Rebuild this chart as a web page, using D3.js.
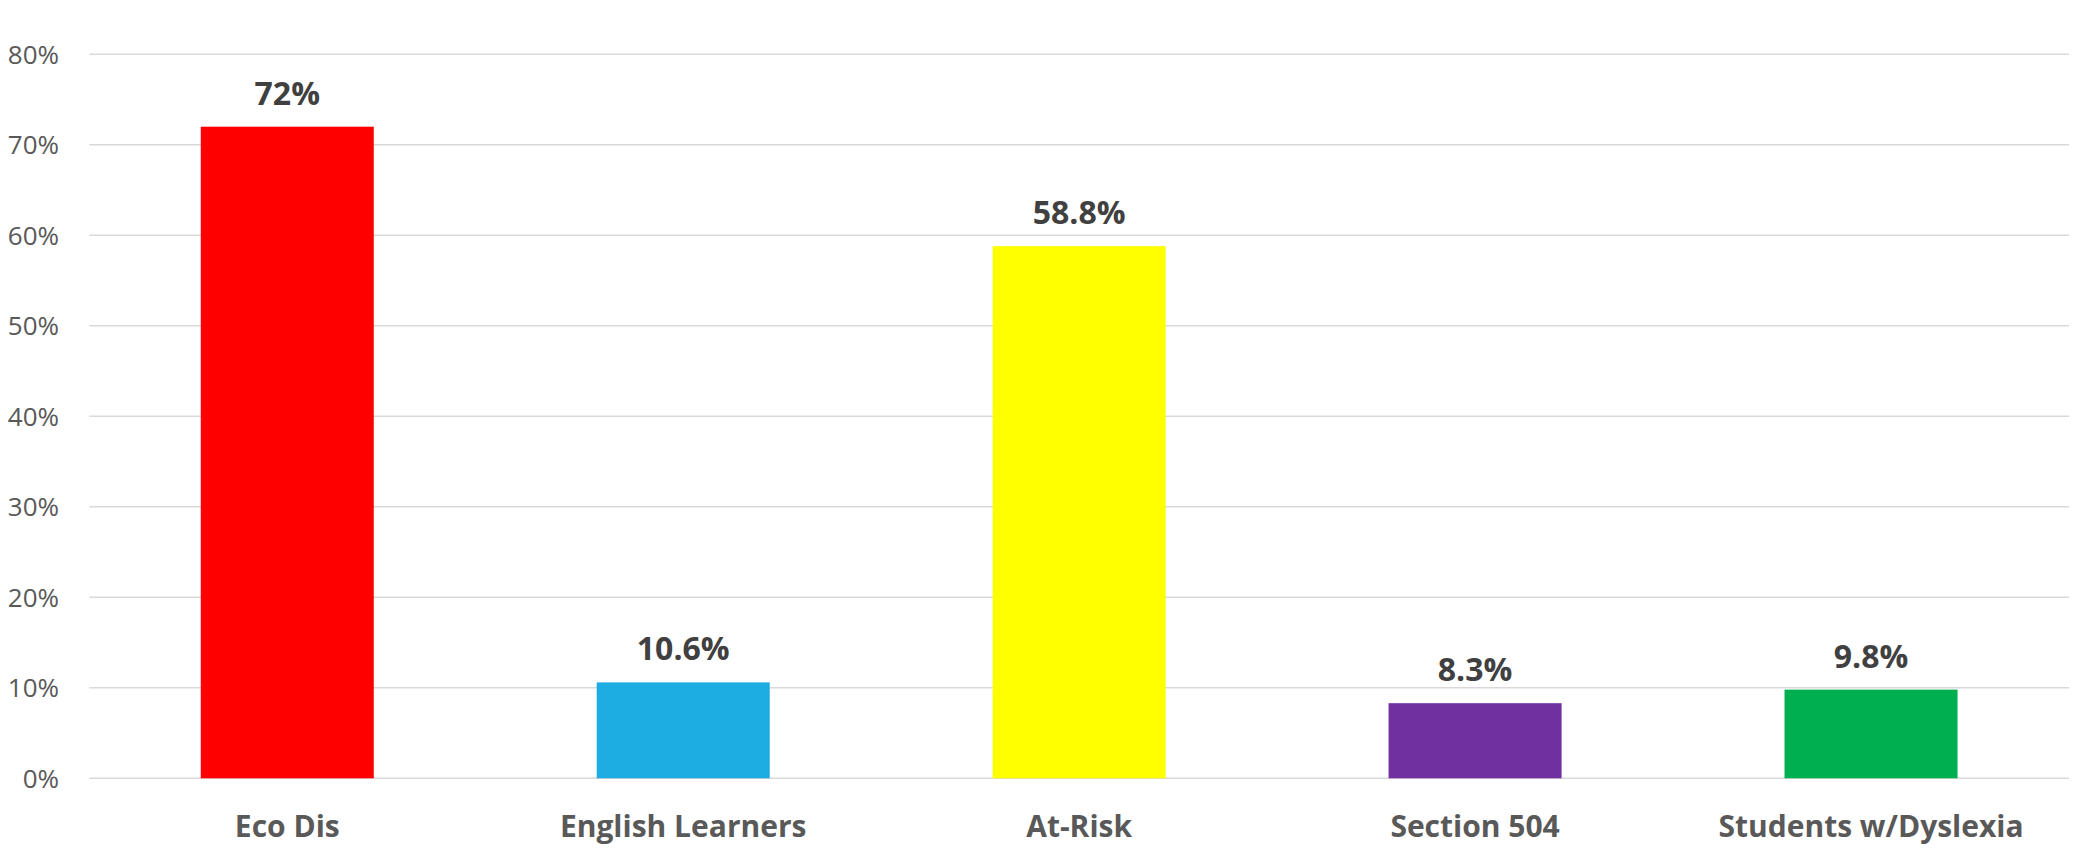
<!DOCTYPE html>
<html><head><meta charset="utf-8">
<script src="https://cdn.jsdelivr.net/npm/d3@7"></script>
<style>html,body{margin:0;padding:0;background:#fff;}svg{display:block;}</style>
</head><body>
<svg id="chart" width="2073" height="850"></svg>
<script>
const categories = ["Eco Dis", "English Learners", "At-Risk", "Section 504", "Students w/Dyslexia"];
const values = [72, 10.6, 58.8, 8.3, 9.8];
const valueLabels = ["72%", "10.6%", "58.8%", "8.3%", "9.8%"];
const colors = ["#FF0000", "#1EADE3", "#FFFF00", "#7030A0", "#00B050"];
const yTicks = [0, 10, 20, 30, 40, 50, 60, 70, 80];

(function () {
const svg = d3.select("#chart");
const mLeft = 89.3, mRight = 2069, mTop = 54.3, mBottom = 778.3;

const x = d3.scaleBand().domain(categories).range([mLeft, mRight]).paddingInner(0.563).paddingOuter(0.2815);
const y = d3.scaleLinear().domain([0, 80]).range([mBottom, mTop]);

// gridlines
svg.append("g").selectAll("line").data(yTicks).join("line")
  .attr("x1", mLeft).attr("x2", mRight)
  .attr("y1", d => y(d)).attr("y2", d => y(d))
  .attr("stroke", "#d9d9d9").attr("stroke-width", 1.5);

// y tick labels
svg.append("g").selectAll("text").data(yTicks).join("text")
  .attr("x", 59).attr("y", d => y(d)).attr("dy", "0.36em")
  .attr("text-anchor", "end")
  .attr("font-family", "'Open Sans', sans-serif").attr("font-size", 26)
  .attr("fill", "#595959")
  .text(d => d + "%");

// bars
svg.append("g").selectAll("rect").data(categories).join("rect")
  .attr("x", d => x(d)).attr("width", x.bandwidth())
  .attr("y", (d, i) => y(values[i])).attr("height", (d, i) => y(0) - y(values[i]))
  .attr("fill", (d, i) => colors[i]);

// value labels
svg.append("g").selectAll("text").data(categories).join("text")
  .attr("x", d => x(d) + x.bandwidth() / 2)
  .attr("y", (d, i) => y(values[i]) - 22)
  .attr("text-anchor", "middle")
  .attr("font-family", "'Open Sans', sans-serif").attr("font-weight", "bold").attr("font-size", 32)
  .attr("fill", "#404040")
  .text((d, i) => valueLabels[i]);

// category labels
svg.append("g").selectAll("text").data(categories).join("text")
  .attr("x", d => x(d) + x.bandwidth() / 2)
  .attr("y", mBottom + 59)
  .attr("text-anchor", "middle")
  .attr("font-family", "'Open Sans', sans-serif").attr("font-weight", "bold").attr("font-size", 30)
  .attr("fill", "#595959")
  .text(d => d);
})();
</script>
</body></html>
